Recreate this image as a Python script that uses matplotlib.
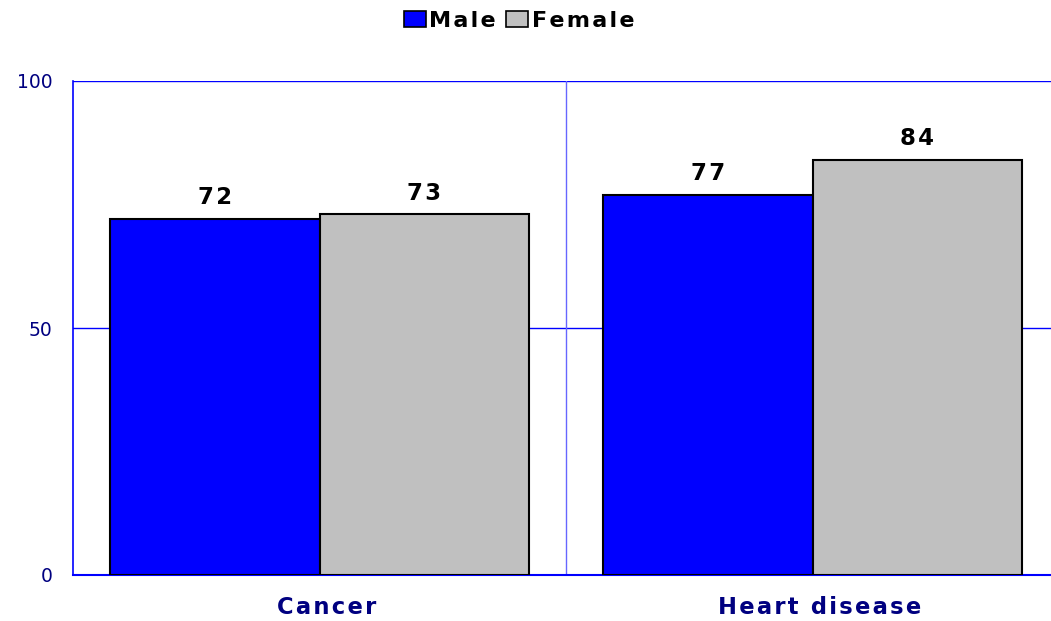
import matplotlib
matplotlib.use("Agg")
import matplotlib.pyplot as plt
import matplotlib.transforms as mtransforms
import numpy as np
from matplotlib.patches import Patch

categories = ["Cancer", "Heart disease"]
series_names = ["Male", "Female"]
male = [72, 77]
female = [73, 84]
yticks = [0, 50, 100]

TS = "\u200a"  # hair space used as letter tracking


def tracked(s):
    return TS.join(list(s))


plt.rcParams['font.family'] = ['DejaVu Sans']
fig = plt.figure(figsize=(10.51, 6.21), dpi=100)
ax = fig.add_axes([73/1051, 1-575/621, 986/1051, 494/621])

x = np.arange(len(categories))
w = 0.425
b1 = ax.bar(x - w/2, male, w, color='#0000FF', edgecolor='black', linewidth=1.5, zorder=3)
b2 = ax.bar(x + w/2, female, w, color='#C0C0C0', edgecolor='black', linewidth=1.5, zorder=3)

for bars, vals in ((b1, male), (b2, female)):
    for r, v in zip(bars, vals):
        ax.text(r.get_x() + r.get_width()/2, v + 3.0, tracked(str(v)), ha='center', va='baseline',
                fontsize=16.5, fontweight='bold', color='black')

ax.set_xlim(-0.5, 1.5)
ax.set_ylim(0, 100)
ax.set_yticks(yticks)
ax.set_yticklabels([str(t) for t in yticks], color='#000080', fontsize=13.5)
ax.set_xticks(x)
ax.set_xticklabels([tracked(c) for c in categories], color='#000080', fontsize=16.3, fontweight='bold')
ax.tick_params(axis='both', length=0)
ax.tick_params(axis='y', pad=15)
ax.tick_params(axis='x', pad=15)
shift = mtransforms.ScaledTranslation(7/100, 0, fig.dpi_scale_trans)
for lab in ax.get_xticklabels():
    lab.set_transform(lab.get_transform() + shift)

for yv in [50, 100]:
    ax.axhline(yv, color='#0000FF', linewidth=1, zorder=1)
ax.axvline(0.5, color='#6666FF', linewidth=1, zorder=1)

for s in ['top', 'right']:
    ax.spines[s].set_visible(False)
ax.spines['left'].set_color('#0000FF')
ax.spines['bottom'].set_color('#0000FF')
ax.spines['left'].set_linewidth(1.2)
ax.spines['bottom'].set_linewidth(1.5)

handles = [Patch(facecolor='#0000FF', edgecolor='black', linewidth=1.2, label=tracked(series_names[0])),
           Patch(facecolor='#C0C0C0', edgecolor='black', linewidth=1.2, label=tracked(series_names[1]))]
fig.legend(handles=handles, loc='center', bbox_to_anchor=(519/1051, 1-21/621), ncol=2,
           frameon=False, prop={'weight': 'bold', 'size': 16}, handlelength=1.0, handleheight=0.7,
           handletextpad=0.15, columnspacing=0.45, borderpad=0)

fig.savefig('out.png', dpi=100)
